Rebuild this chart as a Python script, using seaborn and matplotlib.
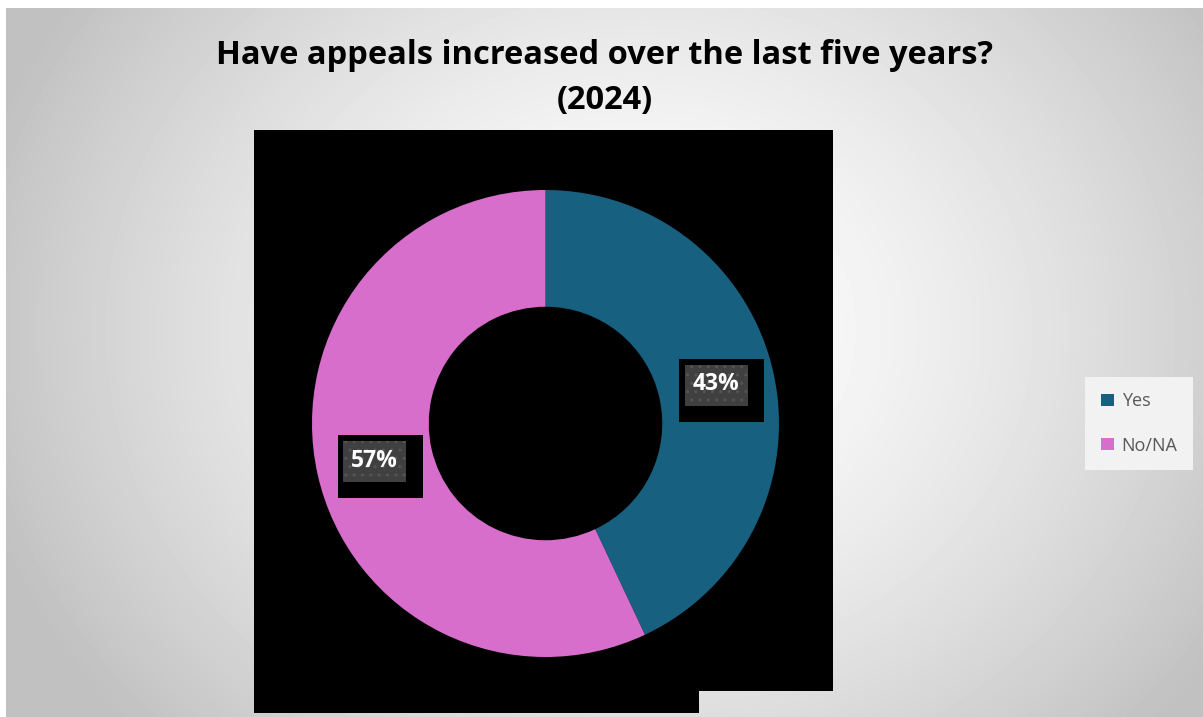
import numpy as np
import matplotlib
matplotlib.use('Agg')
import matplotlib.pyplot as plt
import seaborn as sns
from matplotlib.patches import Rectangle, Patch

# ---- data ----
categories = ['Yes', 'No/NA']
values = [43, 57]
pct_labels = ['43%', '57%']
colors = ['#17607F', '#D86ECC']
title_lines = ['Have appeals increased over the last five years?', '(2024)']

sns.set_theme(style='white')
palette = sns.color_palette(colors)
plt.rcParams['font.family'] = ['Open Sans', 'DejaVu Sans']

W, H = 1203, 717
fig = plt.figure(figsize=(W / 100, H / 100), dpi=100)
fig.patch.set_facecolor('white')

# background (pixel coordinates, y downwards)
bg = fig.add_axes([0, 0, 1, 1])
bg.set_xlim(0, W)
bg.set_ylim(H, 0)
bg.axis('off')
x0, y0 = 6, 8
yy, xx = np.mgrid[y0:H, x0:W]
d = np.sqrt(((xx - 640) / 720.0) ** 2 + ((yy - 330) / 620.0) ** 2)
img = 255 - 62 * np.clip(d / 0.95, 0, 1) ** 1.5
bg.imshow(img, extent=(x0, W, H, y0), cmap='gray', vmin=0, vmax=255,
          aspect='auto', interpolation='bilinear', zorder=0)

# black plot area
bg.add_patch(Rectangle((254, 130), 833 - 254, 691 - 130, facecolor='black',
                       edgecolor='none', zorder=1))
bg.add_patch(Rectangle((254, 130), 699 - 254, 713 - 130, facecolor='black',
                       edgecolor='none', zorder=1))

# title
bg.text(605, 56, title_lines[0], ha='center', va='center', fontsize=23.5,
        fontweight='bold', color='black', zorder=3)
bg.text(605, 101, title_lines[1], ha='center', va='center', fontsize=23.5,
        fontweight='bold', color='black', zorder=3)

# donut
R_PX = 233.5
cx, cy = 545.5, 423.5
half = 250
ax = fig.add_axes([(cx - half) / W, (H - cy - half) / H, 2 * half / W, 2 * half / H])
ax.patch.set_alpha(0)
ax.pie(values, colors=palette, startangle=90, counterclock=False, radius=1,
       wedgeprops=dict(width=0.5, edgecolor='none', linewidth=0))
lim = half / R_PX
ax.set_xlim(-lim, lim)
ax.set_ylim(-lim, lim)
ax.set_aspect('equal')
ax.axis('off')

total = float(sum(values))
cum = 0.0
u = 1.0 / R_PX
for v, lab in zip(values, pct_labels):
    mid = np.deg2rad(90 - 360 * (cum + v / 2.0) / total)
    cum += v
    px, py = 0.75 * np.cos(mid), 0.75 * np.sin(mid)
    bw, bh = 85 * u, 63 * u
    bx, by = px + 5.5 * u, py - 5 * u
    ax.add_patch(Rectangle((bx - bw / 2, by - bh / 2), bw, bh, facecolor='black',
                           edgecolor='none', zorder=5))
    gw, gh = 63 * u, 41 * u
    ax.add_patch(Rectangle((px - gw / 2, py - gh / 2), gw, gh, facecolor='#404040',
                           edgecolor='#555555', linewidth=0, hatch='..', zorder=6))
    ax.text(px, py + 1 * u, lab, ha='center', va='center', fontsize=16.5, fontweight='bold',
            color='white', zorder=7)

# legend
handles = [Patch(facecolor=palette[i], edgecolor='none', label=categories[i])
           for i in range(len(categories))]
leg = fig.legend(handles=handles, loc='center', bbox_to_anchor=(1139 / W, (H - 423.5) / H),
                 frameon=True, fancybox=False, facecolor='#F2F2F2', edgecolor='none',
                 framealpha=1, fontsize=13, labelspacing=1.45, handlelength=0.72,
                 handleheight=0.65, handletextpad=0.45, borderpad=0.85)
for t in leg.get_texts():
    t.set_color('#595959')

fig.savefig('out.png', dpi=100, facecolor=fig.get_facecolor())
